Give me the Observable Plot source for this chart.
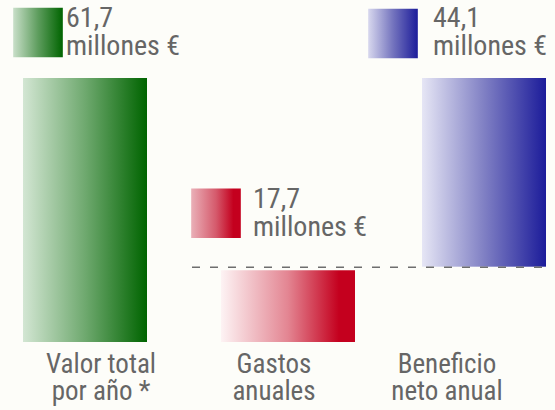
<!DOCTYPE html>
<html>
<head>
<meta charset="utf-8">
<script src="https://cdn.jsdelivr.net/npm/d3@7"></script>
<script src="https://cdn.jsdelivr.net/npm/@observablehq/plot@0.6"></script>
<style>
  html, body { margin: 0; padding: 0; background: #fdfdf9; }
  #chart svg { display: block; }
</style>
</head>
<body>
<div id="chart"></div>
<script>
// ---- data ----
const categories = ["Valor total\npor año *", "Gastos\nanuales", "Beneficio\nneto anual"];
const valueLabels = ["61,7\nmillones €", "17,7\nmillones €", "44,1\nmillones €"];
const totalValue = 61.7;
const gastosValue = 17.7;
const beneficioValue = 44.1;

// waterfall rows built from the values
const rows = [
  {cat: categories[0], y1: 0, y2: totalValue, ref: totalValue, label: valueLabels[0]},
  {cat: categories[1], y1: 0, y2: gastosValue, ref: totalValue - beneficioValue, label: valueLabels[1]},
  {cat: categories[2], y1: totalValue - beneficioValue, y2: totalValue, ref: totalValue, label: valueLabels[2]}
];

const FONT = "'Roboto Condensed', 'Liberation Sans Narrow', 'DejaVu Sans Condensed', Roboto, sans-serif";
const TXT = "#666666";

const style = [
  {grad: "g-green", sw: "s-green", insetLeft: 8, insetRight: 41, insetTop: 0, sdx: -64, sdy: -46, tdx: -36, tdy: -71},
  {grad: "g-red", sw: "s-red", insetLeft: 33, insetRight: 6, insetTop: 4, sdx: -59, sdy: -54, tdx: -22, tdy: -79},
  {grad: "g-blue", sw: "s-blue", insetLeft: 61, insetRight: -12, insetTop: 0, sdx: -55, sdy: -45, tdx: -15, tdy: -71}
];

const marks = [];
rows.forEach((r, i) => {
  const s = style[i];
  marks.push(Plot.rectY([r], {x: "cat", y1: "y1", y2: "y2", fill: `url(#${s.grad})`,
    insetLeft: s.insetLeft, insetRight: s.insetRight, insetTop: s.insetTop}));
  marks.push(Plot.dot([r], {x: "cat", y: "ref", symbol: "square", r: 28, fill: `url(#${s.sw})`,
    dx: s.sdx, dy: s.sdy}));
  marks.push(Plot.text([r], {x: "cat", y: "ref", text: "label", textAnchor: "start", lineAnchor: "top",
    dx: s.tdx, dy: s.tdy, fontSize: 28, lineHeight: 1.0, fill: TXT}));
});
// dashed line at the level of the net benefit base
marks.push(Plot.ruleY([totalValue - beneficioValue], {stroke: "#6e6e6e", strokeWidth: 1.5,
  strokeDasharray: "8,10", insetLeft: 178, insetRight: -15}));
// category labels
marks.push(Plot.text(rows, {x: "cat", text: "cat", frameAnchor: "bottom", lineAnchor: "top",
  dx: -1, dy: 11, fontSize: 27, lineHeight: 1.0, fill: TXT}));

const plot = Plot.plot({
  width: 555,
  height: 410,
  marginLeft: 14,
  marginRight: 21,
  marginTop: 78,
  marginBottom: 68,
  x: {type: "band", domain: categories, padding: 0, axis: null},
  y: {domain: [0, totalValue], axis: null},
  style: {background: "#fdfdf9", fontFamily: FONT, overflow: "visible"},
  marks
});

const svg = d3.select(plot);
const defs = svg.insert("defs", ":first-child");
function grad(id, stops) {
  const g = defs.append("linearGradient").attr("id", id)
    .attr("x1", 0).attr("y1", 0).attr("x2", 1).attr("y2", 0);
  stops.forEach(([o, c]) => g.append("stop").attr("offset", o).attr("stop-color", c));
}
grad("g-green", [[0, "#d3e6d3"], [0.5, "#6fa96f"], [1, "#006400"]]);
grad("s-green", [[0, "#c9dfc9"], [0.5, "#5e9d5e"], [1, "#006400"]]);
grad("g-red", [[0, "#fdf3f4"], [0.5, "#e38592"], [0.88, "#c4001e"], [1, "#c4001e"]]);
grad("s-red", [[0, "#eab0b8"], [0.5, "#d55a6c"], [0.85, "#c4001e"], [1, "#c4001e"]]);
grad("g-blue", [[0, "#e6e6f5"], [0.5, "#8080c4"], [1, "#1c1c9a"]]);
grad("s-blue", [[0, "#d8d8ee"], [0.5, "#7474be"], [1, "#1c1c9a"]]);

document.getElementById("chart").appendChild(plot);
</script>
</body>
</html>
